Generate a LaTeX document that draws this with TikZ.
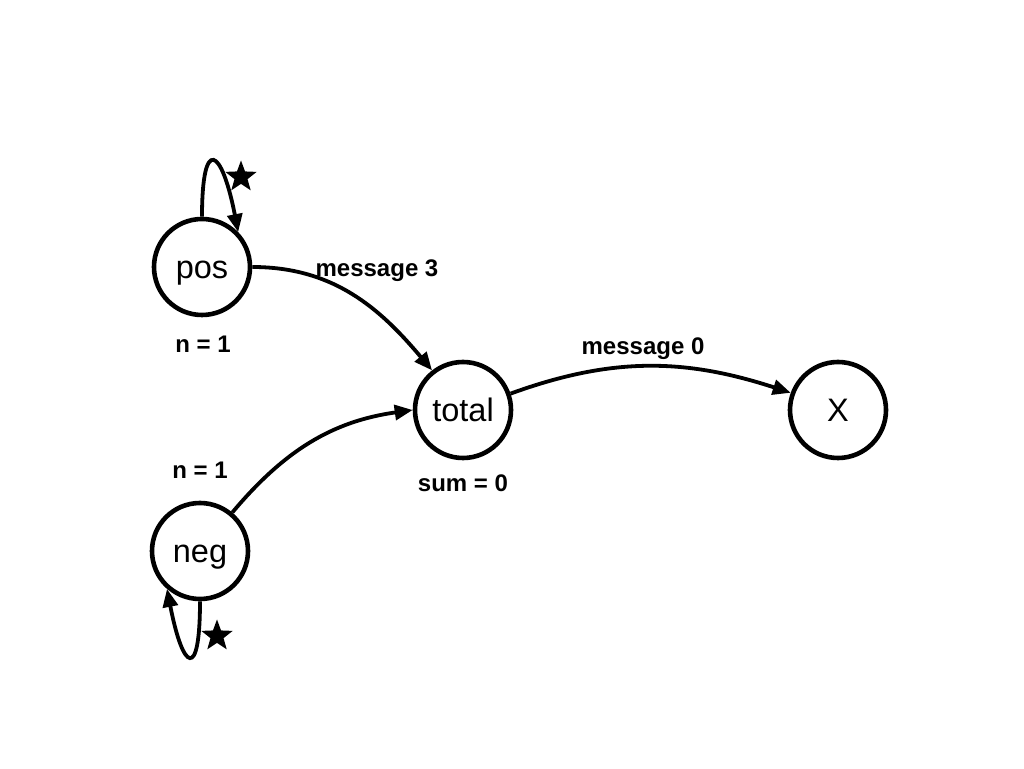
\documentclass[tikz,border=0pt]{standalone}
\usepackage{fontspec}
\setmainfont{Liberation Sans}
\usetikzlibrary{shapes.geometric,arrows.meta}
\begin{document}
\begin{tikzpicture}[x=1pt,y=1pt,
  state/.style={circle,draw,line width=4.6pt,minimum size=96pt,inner sep=0pt,text height=23pt,text depth=0pt,font=\fontsize{32.5}{38}\selectfont},
  lbl/.style={font=\bfseries\fontsize{24}{28}\selectfont,inner sep=0pt,text height=17pt,text depth=0pt},
  edge/.style={line width=3.8pt,-{Triangle[length=18pt,width=15pt]}},
  starmark/.style={star,star points=5,star point ratio=2.4,fill=black,minimum size=33pt,inner sep=0pt}]
\useasboundingbox (0,0) rectangle (1024,768);
\node[state] (pos) at (202,501) {pos};
\node[state] (total) at (463,358) {total};
\node[state] (X) at (838,358) {X};
\node[state] (neg) at (200,217) {neg};
\node[lbl] (m3) at (377,500) {message 3};
\node[lbl] (n1a) at (203,424) {n = 1};
\node[lbl] (n1b) at (200,298) {n = 1};
\node[lbl] (sum) at (463,285) {sum = 0};
\node[lbl] (m0) at (643,422) {message 0};
\node[starmark] (s1) at (241,591) {};
\node[starmark] (s2) at (217,132) {};
\draw[edge] (pos.0) to[out=0,in=130] (total.128);
\draw[edge] (neg.50) to[out=50,in=188] (total.180);
\draw[edge] (total.19) to[out=20,in=162] (X.160);
\draw[edge] (pos.90) .. controls +(90:82) and +(101:86) .. (pos.44);
\draw[edge] (neg.270) .. controls +(270:80) and +(281:84) .. (neg.229);
\end{tikzpicture}
\end{document}
